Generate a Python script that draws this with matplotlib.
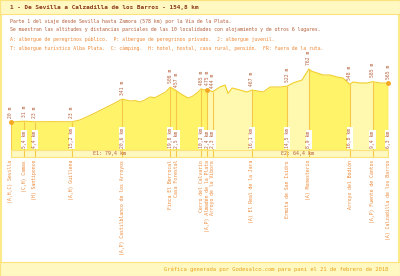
import matplotlib
matplotlib.use("Agg")
import matplotlib.pyplot as plt
import numpy as np
from matplotlib.patches import Rectangle

# ---------------------------------------------------------------
#  Perfil de etapa: Sevilla - Calzadilla de los Barros
# ---------------------------------------------------------------

title = "1 - De Sevilla a Calzadilla de los Barros - 154,8 km"
info_lines = [
    "Parte 1 del viaje desde Sevilla hasta Zamora (578 km) por la Vía de la Plata.",
    "Se muestran las altitudes y distancias parciales de las 10 localidades con alojamiento y de otros 6 lugares.",
    "A: albergue de peregrinos público.  P: albergue de peregrinos privado.  J: albergue juvenil.",
    "T: albergue turístico Alba Plata.  C: cámping.  H: hotel, hostal, casa rural, pensión.  FR: fuera de la ruta.",
]
footer = "Gráfica generada por Godesalco.com para pani el 21 de febrero de 2018"

places = [
    "(A,H,C) Sevilla", "(C,H) Camas", "(H) Santiponce", "(A,H) Guillena",
    "(A,P) Castilblanco de los Arroyos", "Finca El Berrocal", "Casa Forestal",
    "Cerro del Calvario", "(A,P) Almadén de la Plata", "Arroyo de la Víbora",
    "(A) El Real de la Jara", "Ermita de San Isidro", "(A) Monesterio",
    "Arroyo del Bodión", "(A,P) Fuente de Cantos", "(A) Calzadilla de los Barros",
]
partial_km = [0, 5.4, 4.4, 15.2, 20.6, 19.8, 2.5, 10.2, 2.4, 2.3, 16.1, 14.5, 8.9, 16.8, 9.4, 6.3]
point_alt = [20, 31, 23, 23, 341, 508, 457, 485, 475, 444, 467, 522, 762, 548, 585, 565]

profile_km = [0, 5.4, 9.8, 16, 25.0, 28.3, 31, 34.5, 38.6, 42.7, 45.6, 48.9, 51, 53, 55,
              57.1, 59, 61.2, 63.5, 65.4, 67.9, 69.4, 72.7, 74.5, 76.4, 78.1, 79.0, 80.5,
              82.8, 85.8, 87.9, 89.1, 90.8, 94.0, 96.9, 98.9, 101, 103.5, 106.4, 110.5,
              113.4, 115.8, 119.5, 122.3, 123.5, 125.7, 128.1, 131.0, 133.9, 136.3, 139.1,
              140.5, 143.3, 146.2, 148.5, 151.5, 154.8]
profile_alt = [20, 31, 23, 25, 23, 48, 90, 146, 216, 286, 341, 314, 320, 300, 330,
               370, 360, 398, 440, 508, 457, 420, 356, 380, 426, 485, 470, 475,
               444, 510, 538, 420, 496, 468, 440, 467, 455, 440, 510, 510,
               522, 566, 608, 762, 730, 706, 678, 678, 650, 636, 548,
               580, 566, 566, 585, 566, 565]

stage_bounds = [0, 8, 15]          # indices of places where stages start/end
stage_labels = ["E1: 79,4 km", "E2: 64,4 km"]
light_segments = [(8, 10), (11, 12), (13, 14)]

W, H = 400, 276
YMIN, YMAX = -372, 958

fill_dark = "#fff36a"
fill_light = "#fff9b0"
edge_col = "#f2cf2a"
line_col = "#f5c84a"
band_col = "#fff8c0"
brown = "#b5603a"
orange = "#ec8a3a"

plt.rcParams["font.family"] = ["DejaVu Sans Mono", "DejaVu Sans"]

point_km = np.cumsum(partial_km)
pkm = np.array(profile_km)
palt = np.array(profile_alt)


def fig_box(x, y, w, h):
    # pixel box (top-left origin) -> figure fraction
    return [x / W, 1 - (y + h) / H, w / W, h / H]


fig = plt.figure(figsize=(W / 100, H / 100), dpi=100)
fig.patch.set_facecolor("white")

# frame, header and footer
fig.patches.append(Rectangle((0.003, 0.003), 0.994, 0.994, transform=fig.transFigure,
                             fill=False, ec="#fde98a", lw=1.5))
fig.patches.append(Rectangle((0, 1 - 14 / H), 1, 14 / H, transform=fig.transFigure,
                             fc=band_col, ec="#fbe27a", lw=0.8))
fig.patches.append(Rectangle((0, 0), 1, 14 / H, transform=fig.transFigure,
                             fc=band_col, ec="#fbe27a", lw=0.8))

fig.text(10 / W, 1 - 7 / H, title, fontsize=4.3, fontweight="bold", color="#8b3a1a",
         va="center", ha="left")
for i, line in enumerate(info_lines):
    fig.text(10 / W, 1 - (21 + 9 * i) / H, line, fontsize=3.5,
             color=brown if i < 2 else orange, va="center", ha="left")
fig.text(388 / W, 7 / H, footer, fontsize=4.0, color="#e9a31c", va="center", ha="right")

# main profile
ax = fig.add_axes(fig_box(11, 55, 377, 95))
ax.set_xlim(0, point_km[-1])
ax.set_ylim(YMIN, YMAX)
ax.axis("off")

ax.fill_between(pkm, palt, YMIN, color=fill_dark, lw=0)
for a, b in light_segments:
    m = (pkm >= point_km[a] - 1e-6) & (pkm <= point_km[b] + 1e-6)
    ax.fill_between(pkm[m], palt[m], YMIN, color=fill_light, lw=0)
ax.plot(pkm, palt, color=edge_col, lw=0.8)

ax.vlines(point_km, YMIN, point_alt, color=line_col, lw=0.8)
ax.plot(point_km[stage_bounds], np.array(point_alt)[stage_bounds], "o",
        color="#f5a623", ms=2.5, clip_on=False, zorder=5)

for k, alt, d in zip(point_km, point_alt, partial_km):
    ax.annotate(f"{alt} m", (k, alt), xytext=(0, 3), textcoords="offset points",
                rotation=90, ha="center", va="bottom", fontsize=3.4, color=brown)
    if d > 0:
        ax.annotate(f"{d:.1f} km".replace(".", ","), (k, YMIN), xytext=(0, 1.5),
                    textcoords="offset points", rotation=90, ha="center", va="bottom",
                    fontsize=3.4, color=brown,
                    bbox=dict(boxstyle="square,pad=0.15", fc="white", ec="none"))

# stage band
band = fig.add_axes(fig_box(11, 150, 377, 7))
band.set_xlim(0, point_km[-1])
band.set_ylim(0, 1)
band.set_facecolor(band_col)
band.set_xticks([])
band.set_yticks([])
for s in band.spines.values():
    s.set_color("#fbe27a")
    s.set_linewidth(0.8)
band.vlines(point_km, 0, 1, color=line_col, lw=0.8)
for j, lab in enumerate(stage_labels):
    a, b = point_km[stage_bounds[j]], point_km[stage_bounds[j + 1]]
    band.text((a + b) / 2, 0.5, lab, ha="center", va="center", fontsize=3.6, color=brown)

# place names
names = fig.add_axes(fig_box(11, 160, 377, 100))
names.set_xlim(0, point_km[-1])
names.set_ylim(0, 1)
names.axis("off")
for k, name in zip(point_km, places):
    names.text(k, 1, name, rotation=90, ha="center", va="top", fontsize=3.5, color=orange)

fig.savefig("out.png", dpi=100)
